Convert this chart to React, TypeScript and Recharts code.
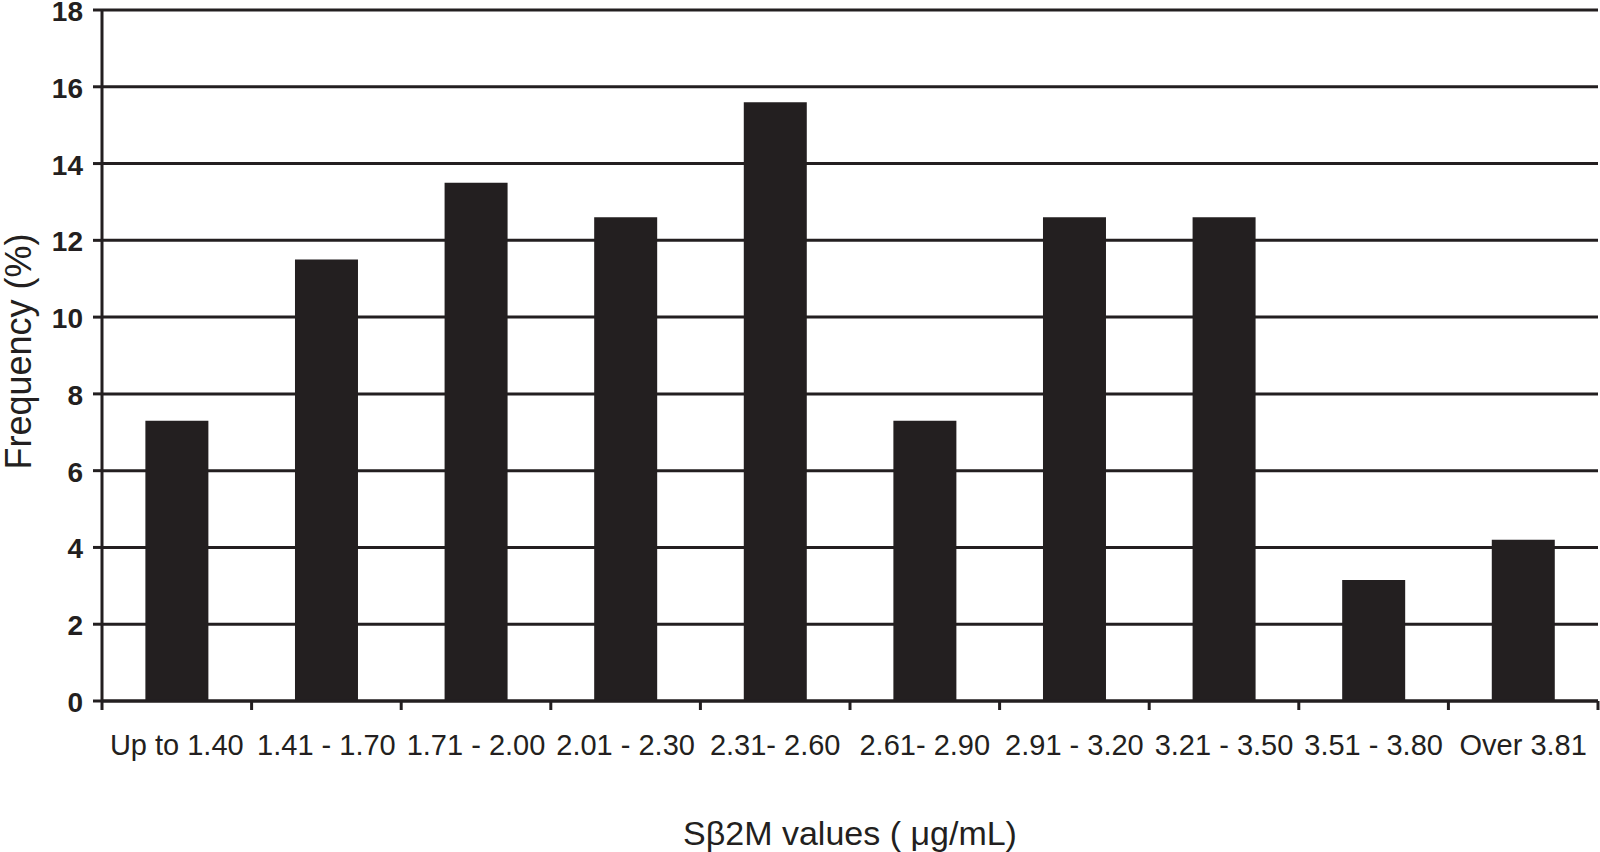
import { Bar, BarChart, CartesianGrid, Label, XAxis, YAxis } from 'recharts';

const categories = [
  'Up to 1.40',
  '1.41 - 1.70',
  '1.71 - 2.00',
  '2.01 - 2.30',
  '2.31- 2.60',
  '2.61- 2.90',
  '2.91 - 3.20',
  '3.21 - 3.50',
  '3.51 - 3.80',
  'Over 3.81',
];
const frequency = [7.3, 11.5, 13.5, 12.6, 15.6, 7.3, 12.6, 12.6, 3.15, 4.2];
const yTicks = [0, 2, 4, 6, 8, 10, 12, 14, 16, 18];

const data = categories.map((range, i) => ({ range, frequency: frequency[i] }));

const INK = '#231f20';
const FONT = '"Liberation Sans", Arial, Helvetica, sans-serif';
const W = 1600;
const H = 852;
const Y_AXIS_W = 102;
const RIGHT = 2;
const BAND = (W - Y_AXIS_W - RIGHT) / categories.length;

// category labels centred, tick marks on the category edges
function EdgeTick(props: any) {
  const { x, y, payload, index } = props;
  const half = BAND / 2;
  const last = index === categories.length - 1;
  return (
    <g>
      <line x1={x - half} x2={x - half} y1={y} y2={y + 9} stroke={INK} strokeWidth={3} />
      {last && <line x1={x + half} x2={x + half} y1={y} y2={y + 9} stroke={INK} strokeWidth={3} />}
      <text x={x} y={y + 54} textAnchor="middle" fontSize={29} fontFamily={FONT} fill={INK}>
        {payload.value}
      </text>
    </g>
  );
}

function ValueTick(props: any) {
  const { x, y, payload } = props;
  return (
    <text x={x} y={y + 11} textAnchor="end" fontSize={28} fontWeight="bold" fontFamily={FONT} fill={INK}>
      {payload.value}
    </text>
  );
}

export default function App() {
  return (
    <div style={{ position: 'absolute', left: 0, top: 0, background: '#fff' }}>
      <BarChart
        width={W}
        height={H}
        data={data}
        margin={{ top: 10, right: RIGHT, left: 0, bottom: 0 }}
        barCategoryGap="29%"
      >
        <CartesianGrid vertical={false} stroke={INK} strokeWidth={3} strokeOpacity={1} />
        <XAxis
          dataKey="range"
          height={151}
          interval={0}
          tickSize={0}
          tickMargin={0}
          tickLine={false}
          axisLine={{ stroke: INK, strokeWidth: 3 }}
          tick={<EdgeTick />}
        >
          <Label
            content={(p: any) => {
              const vb = p.viewBox;
              return (
                <text x={vb.x + vb.width / 2} y={vb.y + 144} textAnchor="middle" fontSize={34} fontFamily={FONT} fill={INK}>
                  Sβ2M values ( μg/mL)
                </text>
              );
            }}
          />
        </XAxis>
        <YAxis
          width={Y_AXIS_W}
          domain={[0, 18]}
          ticks={yTicks}
          interval={0}
          tickSize={9}
          tickMargin={10}
          axisLine={{ stroke: INK, strokeWidth: 3 }}
          tickLine={{ stroke: INK, strokeWidth: 3 }}
          tick={<ValueTick />}
        >
          <Label
            content={(p: any) => {
              const vb = p.viewBox;
              const cx = vb.x + 18;
              const cy = vb.y + vb.height / 2 - 4;
              return (
                <text
                  x={cx}
                  y={cy}
                  transform={`rotate(-90 ${cx} ${cy})`}
                  textAnchor="middle"
                  dominantBaseline="central"
                  fontSize={36}
                  fontFamily={FONT}
                  fill={INK}
                >
                  Frequency (%)
                </text>
              );
            }}
          />
        </YAxis>
        <Bar dataKey="frequency" fill={INK} isAnimationActive={false} />
      </BarChart>
    </div>
  );
}
